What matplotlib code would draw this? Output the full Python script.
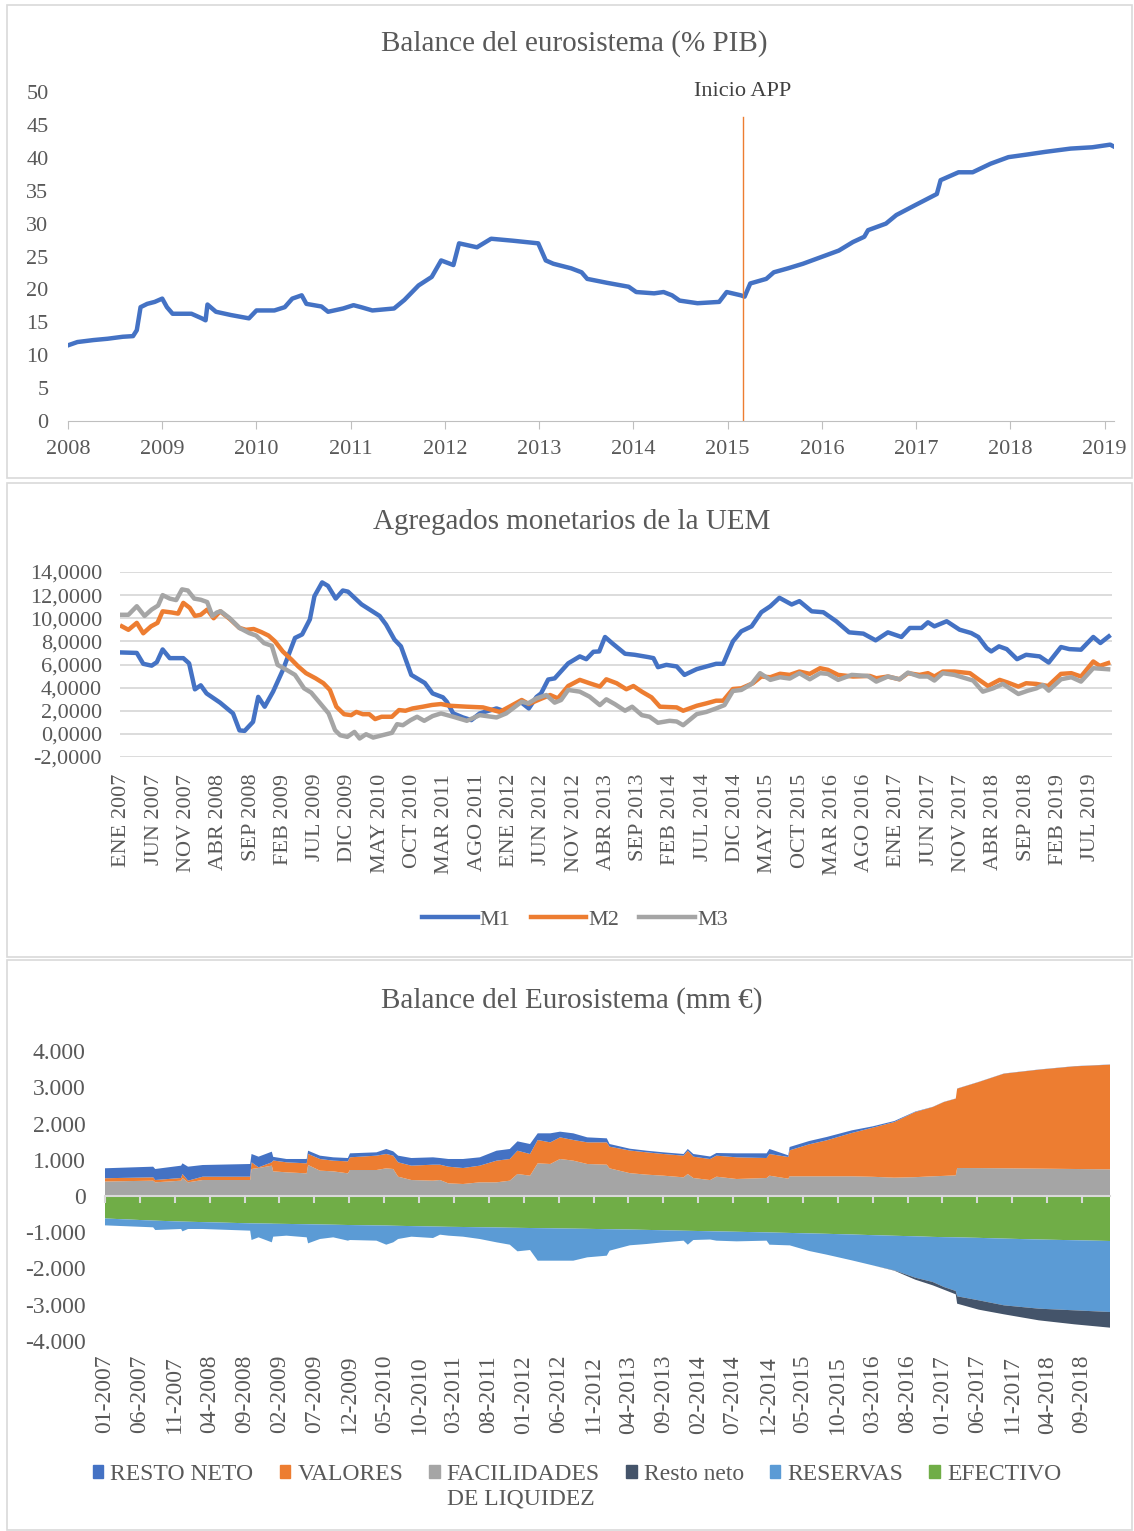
import matplotlib
matplotlib.use('Agg')
import matplotlib.pyplot as plt
from matplotlib.patches import Rectangle, Patch
from matplotlib.ticker import FuncFormatter

plt.rcParams['font.family'] = ['Liberation Serif', 'DejaVu Serif']
TXT = '#595959'
W, H = 1134, 1531

# ---- panel 1: balance del eurosistema (% PIB)
bal_anio = [2008.0, 2008.1, 2008.27, 2008.42, 2008.58, 2008.69, 2008.73, 2008.77, 2008.84, 2008.92,
            2009.0, 2009.05, 2009.11, 2009.31, 2009.42, 2009.46, 2009.48, 2009.57, 2009.73, 2009.92,
            2010.0, 2010.19, 2010.3, 2010.38, 2010.48, 2010.53, 2010.69, 2010.76, 2010.92, 2011.03,
            2011.11, 2011.23, 2011.46, 2011.57, 2011.72, 2011.86, 2011.96, 2012.09, 2012.15, 2012.34,
            2012.49, 2012.72, 2012.99, 2013.07, 2013.15, 2013.34, 2013.45, 2013.51, 2013.72, 2013.95,
            2014.03, 2014.22, 2014.32, 2014.41, 2014.49, 2014.68, 2014.91, 2014.99, 2015.14, 2015.18,
            2015.24, 2015.41, 2015.49, 2015.64, 2015.8, 2015.99, 2016.18, 2016.33, 2016.45, 2016.49,
            2016.68, 2016.79, 2016.99, 2017.22, 2017.26, 2017.45, 2017.6, 2017.79, 2017.98, 2018.18,
            2018.37, 2018.64, 2018.87, 2019.06, 2019.1]
bal_pib = [11.5, 12.0, 12.3, 12.5, 12.8, 12.9, 13.8, 17.3, 17.8, 18.1,
           18.6, 17.3, 16.3, 16.3, 15.6, 15.3, 17.7, 16.6, 16.1, 15.6,
           16.8, 16.8, 17.3, 18.6, 19.1, 17.8, 17.4, 16.6, 17.1, 17.6,
           17.3, 16.8, 17.1, 18.4, 20.6, 21.9, 24.4, 23.7, 27.0, 26.4,
           27.7, 27.4, 27.0, 24.4, 23.9, 23.2, 22.6, 21.6, 21.0, 20.4,
           19.6, 19.4, 19.6, 19.1, 18.3, 17.9, 18.1, 19.6, 19.1, 18.9,
           20.9, 21.6, 22.6, 23.2, 23.9, 24.9, 25.9, 27.2, 28.0, 29.0,
           30.0, 31.3, 32.8, 34.5, 36.6, 37.8, 37.8, 39.1, 40.1, 40.5,
           40.9, 41.4, 41.6, 42.0, 41.7]
inicio_app = 2015.16

# ---- panel 2: agregados monetarios (month index, 0 = ENE 2007)
m1_mes = [0, 2.3, 3.3, 4.6, 5.4, 6.3, 7.4, 9.5, 10.4, 11.3, 12.2, 13.1, 15.2, 17.2, 18.2, 19, 20.3, 21.1,
          22.1, 23.4, 24.9, 26.8, 27.9, 29.1, 29.8, 31, 31.9, 33.1, 34.2, 35, 37.1, 39.9, 40.9, 42.2,
          43.2, 44.8, 46.9, 48.1, 49.7, 50.3, 51.3, 52.8, 54.1, 55.4, 58, 59.5, 61.7, 63, 64.2, 64.9,
          66, 67, 69.1, 70.9, 71.9, 73, 73.9, 74.8, 76, 77.9, 79.4, 81.5, 82.3, 83, 84.3, 85.9, 87.1,
          89, 90.5, 92, 93.1, 94.6, 95.9, 97.5, 99, 100.4, 101.8, 103.7, 104.9, 106.8, 108.6, 110.6,
          112.6, 114.8, 116.7, 118.6, 120.7, 122, 123.8, 124.8, 125.8, 127.7, 129.7, 131.5, 132.6,
          133.9, 134.6, 135.8, 137, 138.6, 140, 142.1, 143.5, 145.4, 146.7, 148.5, 150.4, 151.5, 152.8]
m1_val = [7.04, 7.0, 6.06, 5.9, 6.2, 7.3, 6.55, 6.55, 6.1, 3.85, 4.2, 3.5, 2.7, 1.77, 0.3, 0.26, 1.04, 3.2,
          2.35, 3.65, 5.5, 8.3, 8.6, 9.9, 11.9, 13.1, 12.8, 11.7, 12.4, 12.3, 11.2, 10.2, 9.45, 8.15,
          7.57, 5.1, 4.4, 3.5, 3.16, 2.78, 1.77, 1.42, 1.19, 1.77, 2.2, 1.9, 2.78, 2.2, 3.2, 3.5,
          4.7, 4.8, 6.1, 6.7, 6.46, 7.1, 7.13, 8.38, 7.8, 6.93, 6.84, 6.64, 6.55, 5.77, 5.97, 5.83, 5.1,
          5.6, 5.83, 6.06, 6.06, 8.0, 8.87, 9.3, 10.52, 11.04, 11.77, 11.19, 11.48, 10.6, 10.52, 9.74,
          8.78, 8.67, 8.09, 8.78, 8.38, 9.16, 9.16, 9.65, 9.3, 9.74, 9.01, 8.72, 8.38,
          7.42, 7.13, 7.57, 7.33, 6.46, 6.84, 6.7, 6.17, 7.51, 7.33, 7.28, 8.38, 7.86, 8.43]

m2_mes = [0, 1, 2.3, 3.3, 4.5, 5.5, 6.3, 7.7, 8.7, 9.5, 10.5, 11.3, 12.2, 13.2, 14.2, 15.2, 16.7, 18.2,
          19.2, 20.4, 21.6, 22.7, 23.7, 24.9, 26.3, 27.3, 28.5, 30, 31.2, 32.2, 33.2, 34.4, 35.5, 36.3,
          37.3, 38.3, 39.2, 40.2, 41.8, 42.9, 43.9, 45, 46.6, 48, 49.4, 50.8, 53.4, 55.9, 58.5, 60,
          61.9, 63, 64.7, 66.3, 67.5, 69.1, 70.9, 72.4, 74, 75, 76.6, 78.1, 79.2, 80.5, 82, 83.3, 85.9,
          86.9, 89, 90.5, 92, 93.1, 94.6, 95.9, 97.7, 99, 100.4, 101.9, 103.4, 104.9, 106.5, 108.1,
          109.3, 110.9, 113.2, 115.8, 116.8, 118.6, 120.4, 121.7, 123.5, 124.8, 125.8, 127.1, 128.9,
          131.3, 132.6, 134.1, 135.9, 137.2, 138.8, 140, 141.6, 143.4, 145.4, 147, 148.5, 150.4,
          151.4, 152.7]
m2_val = [9.3, 9.0, 9.6, 8.7, 9.3, 9.6, 10.6, 10.5, 10.4, 11.33, 10.9, 10.2, 10.3, 10.75, 10.0, 10.6, 9.94, 9.16,
          9.0, 9.07, 8.8, 8.5, 8.0, 7.13, 6.4, 5.83, 5.25, 4.8, 4.38, 3.8, 2.35, 1.7, 1.62, 1.9,
          1.7, 1.7, 1.28, 1.48, 1.48, 2.06, 2.0, 2.2, 2.35, 2.5, 2.58, 2.43, 2.35, 2.29, 1.9, 2.35,
          2.93, 2.58, 2.99, 3.36, 3.07, 4.14, 4.67, 4.38, 4.09, 4.72, 4.38, 3.86, 4.14, 3.65, 3.16, 2.35, 2.29,
          2.0, 2.43, 2.64, 2.87, 2.87, 3.88, 3.94, 4.38, 4.96, 4.9, 5.2, 5.1, 5.39, 5.19, 5.68,
          5.54, 5.1, 4.96, 5.01, 4.81, 4.96, 4.72, 5.25, 5.1, 5.25, 4.96, 5.39, 5.39,
          5.25, 4.72, 4.14, 4.67, 4.43, 4.09, 4.38, 4.32, 4.14, 5.19, 5.25, 4.96, 6.26,
          5.88, 6.12]

m3_mes = [0, 1, 2.3, 3.5, 4.6, 5.6, 6.3, 7.4, 8.4, 9.3, 10.2, 11.2, 12.2, 13.2, 14, 14.7, 15.3, 16.7,
          18.2, 19.7, 20.8, 22, 23.2, 24.1, 25.3, 26.8, 28.2, 29.3, 30.7, 32, 33, 33.8, 34.9, 36,
          36.8, 37.8, 38.9, 40.3, 41.8, 42.6, 43.5, 44.7, 45.7, 46.8, 48.1, 49.4, 51.3, 53.4, 55.4,
          58, 59.5, 61.9, 62.9, 64.2, 65.7, 67, 68, 69.1, 70.9, 72.4, 74, 75, 76.3, 77.9, 79, 80.5,
          81.7, 83, 84.8, 85.9, 86.9, 89, 90.5, 92, 93.3, 94.6, 95.9, 97.5, 98.8, 100.4, 101.9, 103.4,
          104.9, 106.5, 108.1, 109.3, 110.9, 113, 115.5, 116.8, 118.6, 120.4, 121.7, 123.5, 124.8,
          125.8, 127.1, 128.9, 131.8, 133.3, 134.9, 136.4, 138.8, 140.3, 141.6, 142.6, 143.5, 145.4,
          147, 148.5, 150.4, 152.7]
m3_val = [10.3, 10.3, 11.04, 10.2, 10.75, 11.1, 12.0, 11.7, 11.57, 12.5, 12.4, 11.7, 11.6, 11.4, 10.2, 10.5, 10.6, 10.0,
          9.16, 8.72, 8.5, 7.85, 7.62, 5.97, 5.6, 5.1, 3.94, 3.57, 2.64, 1.77, 0.32, -0.12, -0.26, 0.17,
          -0.4, -0.03, -0.32, -0.12, 0.09, 0.84, 0.75, 1.19, 1.48, 1.13, 1.54, 1.77, 1.48, 1.13, 1.62,
          1.42, 1.77, 2.78, 2.64, 3.07, 3.36, 2.7, 2.93, 3.8, 3.65, 3.22, 2.49, 2.99, 2.58, 2.0, 2.35, 1.62,
          1.48, 0.96, 1.13, 1.07, 0.75, 1.71, 1.9, 2.2, 2.49, 3.71, 3.8, 4.32, 5.25, 4.67, 4.9, 4.78,
          5.25, 4.72, 5.25, 5.19, 4.67, 5.1, 5.01, 4.52, 4.96, 4.72, 5.3, 4.96, 4.96,
          4.61, 5.25, 5.1, 4.61, 3.65, 3.94, 4.32, 3.45, 3.74, 3.94, 4.23, 3.74, 4.72,
          4.9, 4.52, 5.68, 5.59]

meses_abr = ['ENE', 'FEB', 'MAR', 'ABR', 'MAY', 'JUN', 'JUL', 'AGO', 'SEP', 'OCT', 'NOV', 'DIC']

# ---- panel 3: balance del Eurosistema (mm EUR), month index 0 = 01-2007
bal_mes = [0, 6.9, 7.2, 10.9, 11.1, 11.9, 14, 20.8, 21.0, 22, 23.9, 24.1, 26, 28.9, 29.1, 30.8, 32.7,
           34.8, 35.1, 38.9, 40.3, 41.3, 42, 43.9, 47, 48, 49.2, 51.3, 53.7, 56.1, 58, 59.1, 60.9,
           62, 63.8, 65.2, 67.1, 69.1, 71.9, 72.3, 75.2, 77.6, 80, 82.9, 83.5, 84.3, 86.7, 87.6,
           90.5, 94.8, 95.2, 97.9, 98.1, 100.9, 103.4, 107, 110, 113.1, 116.1, 118.6, 120.2, 121.9,
           122.1, 125.2, 128.8, 133.8, 138.9, 144]
facilidades = [400, 423, 377, 423, 497, 377, 441, 441, 745, 772, 837, 680, 653, 625, 855, 699, 680,
               625, 717, 717, 763, 745, 533, 441, 423, 441, 349, 331, 377, 377, 423, 607, 561,
               901, 883, 1021, 975, 883, 864, 763, 630, 589, 561, 515, 607, 497, 440, 533,
               469, 497, 561, 478, 543, 543, 543, 543, 530, 506, 520, 543, 555, 570,
               772, 770, 765, 755, 745, 735]
valores = [90, 92, 64, 74, 110, 46, 92, 92, 184, 19, 92, 300, 276, 276, 304, 322, 295,
           331, 350, 396, 396, 368, 396, 396, 441, 423, 460, 441, 460, 598, 598, 643, 598,
           644, 597, 597, 570, 597, 616, 598, 625, 616, 598, 598, 643, 588, 580, 580,
           598, 551, 598, 598, 717, 882, 993, 1195, 1355, 1535, 1797, 1912, 2038, 2115,
           2189, 2375, 2610, 2730, 2832, 2888]
resto_activo = [275, 294, 304, 340, 294, 386, 322, 350, 230, 294, 294, 100, 92, 120, 91, 92, 92,
                92, 110, 92, 138, 119, 184, 211, 203, 184, 212, 249, 230, 275, 276, 258, 275,
                184, 249, 157, 184, 138, 111, 73, 50, 45, 46, 46, 47, 74, 70, 73,
                110, 129, 138, 46, 92, 92, 92, 73, 37, 28, 13, 5, 5, 5,
                5, 5, 5, 5, 5, 5]
efectivo = [-620, -678, -680, -705, -706, -710, -720, -754, -755, -758, -763, -765, -770, -779, -780, -786, -792,
            -800, -801, -812, -815, -820, -823, -830, -842, -845, -850, -855, -862, -868, -875, -878, -883,
            -886, -890, -895, -900, -906, -915, -916, -925, -935, -945, -958, -960, -963, -972, -976,
            -987, -1004, -1006, -1018, -1019, -1032, -1043, -1062, -1080, -1097, -1112, -1128, -1135, -1140,
            -1141, -1155, -1175, -1200, -1220, -1241]
reservas = [-190, -186, -258, -205, -269, -200, -190, -202, -459, -382, -515, -357, -324, -361, -526, -400, -348,
            -432, -413, -420, -528, -458, -363, -292, -317, -222, -244, -267, -324, -410, -468, -648, -607,
            -898, -894, -889, -884, -786, -731, -592, -435, -389, -333, -274, -383, -251, -228, -256,
            -264, -228, -337, -343, -342, -485, -575, -713, -833, -953, -1141, -1244, -1375, -1480,
            -1626, -1723, -1841, -1908, -1934, -1959]
resto_pasivo = [0, 0, 0, 0, 0, 0, 0, 0, 0, 0, 0, 0, 0, 0, 0, 0, 0,
                0, 0, 0, 0, 0, 0, 0, 0, 0, 0, 0, 0, 0, 0, 0, 0,
                0, 0, 0, 0, 0, 0, 0, 0, 0, 0, 0, 0, 0, 0, 0,
                0, 0, 0, 0, 0, 0, 0, 0, 0, -10, -55, -92, -74, -93,
                -203, -258, -248, -322, -386, -432]


def caja(l, t, r, b):
    # pixel box (from top-left) -> figure fraction
    return [l / W, 1 - b / H, (r - l) / W, (b - t) / H]


fig = plt.figure(figsize=(W / 100, H / 100), dpi=100)

# borders of the three chart images
for t, b in [(5, 478), (483, 957), (960, 1530)]:
    fig.add_artist(Rectangle((7 / W, 1 - b / H), 1125 / W, (b - t) / H, transform=fig.transFigure,
                             fill=False, edgecolor='#D9D9D9', lw=1.2))

# ---------------- panel 1
ax1 = fig.add_axes(caja(68, 92, 1114, 421))
ax1.plot(bal_anio, bal_pib, color='#4472C4', lw=3.2)
ax1.set_xlim(2008, 2019.1)
ax1.set_ylim(0, 50)
ax1.set_xticks(range(2008, 2020))
ax1.set_yticks(range(0, 51, 5))
for s in ['top', 'right', 'left']:
    ax1.spines[s].set_visible(False)
ax1.spines['bottom'].set_color('#BFBFBF')
ax1.tick_params(axis='y', length=0, pad=14, labelsize=16, labelcolor=TXT)
ax1.tick_params(axis='x', length=6, color='#BFBFBF', pad=8, labelsize=16, labelcolor=TXT)
ax1.axvline(inicio_app, ymax=46.2 / 50, color='#ED7D31', lw=1)
ax1.text(inicio_app, 50, 'Inicio APP', ha='center', va='center', fontsize=16, color='#404040', clip_on=False)
fig.text(574 / W, 1 - 44 / H, 'Balance del eurosistema (% PIB)', ha='center', va='center', fontsize=21, color=TXT)

# ---------------- panel 2
ax2 = fig.add_axes(caja(120, 572, 1112, 757))
l1, = ax2.plot(m1_mes, m1_val, color='#4472C4', lw=3.2, label='M1')
l2, = ax2.plot(m2_mes, m2_val, color='#ED7D31', lw=3.2, label='M2')
l3, = ax2.plot(m3_mes, m3_val, color='#A5A5A5', lw=3.2, label='M3')
ax2.set_xlim(-0.3, 153.3)
ax2.set_ylim(-2, 14)
ax2.set_yticks(range(-2, 15, 2))
ax2.yaxis.set_major_formatter(FuncFormatter(lambda v, p: f'{v:.4f}'.replace('.', ',')))
tk2 = list(range(0, 151, 5))
ax2.set_xticks(tk2, [f'{meses_abr[m % 12]} {2007 + m // 12}' for m in tk2], rotation=90, va='top')
ax2.grid(axis='y', color='#D9D9D9', lw=1.3)
ax2.set_axisbelow(True)
for s in ax2.spines.values():
    s.set_visible(False)
ax2.tick_params(axis='y', length=0, pad=13, labelsize=16, labelcolor=TXT)
ax2.tick_params(axis='x', length=0, pad=12, labelsize=16, labelcolor=TXT)
ax2.legend(handles=[l1, l2, l3], loc='center', bbox_to_anchor=(575 / W, 1 - 920 / H),
           bbox_transform=fig.transFigure, ncol=3, frameon=False, fontsize=16,
           handlelength=2.5, handletextpad=0.1, columnspacing=0.9, labelcolor=TXT)
fig.text(572 / W, 1 - 522 / H, 'Agregados monetarios de la UEM', ha='center', va='center', fontsize=21, color=TXT)

# ---------------- panel 3
ax3 = fig.add_axes(caja(105, 1051, 1110, 1341))
ax3.stackplot(bal_mes, facilidades, valores, resto_activo,
              colors=['#A5A5A5', '#ED7D31', '#4472C4'], lw=0)
ax3.stackplot(bal_mes, efectivo, reservas, resto_pasivo,
              colors=['#70AD47', '#5B9BD5', '#44546A'], lw=0)
ax3.set_xlim(0, 144)
ax3.set_ylim(-4000, 4000)
ax3.set_yticks(range(-4000, 4001, 1000))
ax3.yaxis.set_major_formatter(FuncFormatter(lambda v, p: f'{v:,.0f}'.replace(',', '.')))
tk3 = list(range(0, 141, 5))
ax3.set_xticks(tk3)
for s in ['top', 'right', 'left']:
    ax3.spines[s].set_visible(False)
ax3.spines['bottom'].set_position(('data', 0))
ax3.spines['bottom'].set_color('#D9D9D9')
ax3.spines['bottom'].set_linewidth(1.5)
ax3.tick_params(axis='x', length=5, width=1.5, color='#D9D9D9', labelbottom=False)
ax3.tick_params(axis='y', length=0, pad=14, labelsize=17, labelcolor=TXT)
sec = ax3.secondary_xaxis('bottom')
sec.set_xticks(tk3, [f'{m % 12 + 1:02d}-{2007 + m // 12}' for m in tk3], rotation=90, va='top')
sec.spines['bottom'].set_visible(False)
sec.tick_params(length=0, pad=10, labelsize=17, labelcolor=TXT)

vacio = Patch(facecolor='none', edgecolor='none')
ley_h = [Patch(color='#4472C4'), vacio, Patch(color='#ED7D31'), vacio,
         Patch(color='#A5A5A5'), vacio, Patch(color='#44546A'), vacio,
         Patch(color='#5B9BD5'), vacio, Patch(color='#70AD47'), vacio]
ley_t = ['RESTO NETO', '', 'VALORES', '', 'FACILIDADES', 'DE LIQUIDEZ',
         'Resto neto', '', 'RESERVAS', '', 'EFECTIVO', '']
ax3.legend(ley_h, ley_t, loc='center', bbox_to_anchor=(577 / W, 1 - 1487 / H),
           bbox_transform=fig.transFigure, ncol=6, frameon=False, fontsize=17,
           handlelength=0.45, handleheight=0.45, handletextpad=0.3, columnspacing=1.1,
           labelspacing=0.15, labelcolor=TXT)
fig.text(572 / W, 1 - 1001 / H, 'Balance del Eurosistema (mm €)', ha='center', va='center', fontsize=21, color=TXT)

fig.savefig('out.png', dpi=100)
